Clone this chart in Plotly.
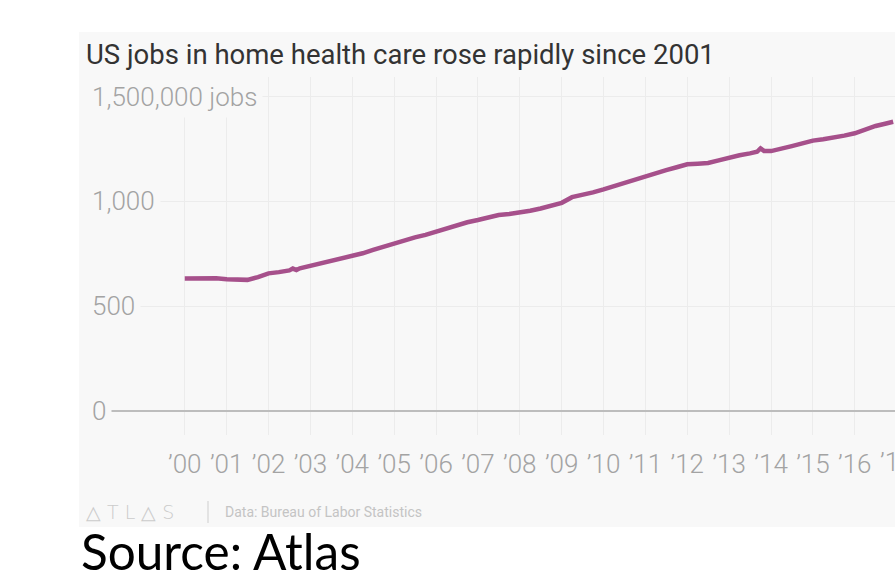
import plotly.graph_objects as go

# Home health care employment, thousands of jobs (BLS monthly series, sampled)
months = [
    "2000-01", "2000-04", "2000-07", "2000-10",
    "2001-01", "2001-04", "2001-07", "2001-10",
    "2002-01", "2002-04", "2002-07", "2002-08", "2002-09", "2002-10",
    "2003-01", "2003-04", "2003-07", "2003-10",
    "2004-01", "2004-04", "2004-07", "2004-10",
    "2005-01", "2005-04", "2005-07", "2005-10",
    "2006-01", "2006-04", "2006-07", "2006-10",
    "2007-01", "2007-04", "2007-07", "2007-10",
    "2008-01", "2008-04", "2008-07", "2008-10",
    "2009-01", "2009-04", "2009-07", "2009-10",
    "2010-01", "2010-04", "2010-07", "2010-10",
    "2011-01", "2011-04", "2011-07", "2011-10",
    "2012-01", "2012-04", "2012-07", "2012-10",
    "2013-01", "2013-04", "2013-07", "2013-09", "2013-10", "2013-11",
    "2014-01", "2014-04", "2014-07", "2014-10",
    "2015-01", "2015-04", "2015-07", "2015-10",
    "2016-01", "2016-04", "2016-07", "2016-10", "2016-12",
]
jobs_k = [
    632, 634, 635, 633,
    628, 624, 625, 638,
    656, 662, 670, 679, 672, 680,
    692, 704, 715, 726,
    740, 752, 768, 784,
    800, 812, 828, 840,
    855, 870, 887, 900,
    911, 922, 935, 940,
    946, 955, 966, 978,
    993, 1020, 1030, 1043,
    1057, 1073, 1089, 1105,
    1121, 1135, 1149, 1163,
    1177, 1180, 1183, 1196,
    1210, 1220, 1229, 1237, 1253, 1241,
    1240, 1250, 1264, 1277,
    1290, 1297, 1304, 1314,
    1325, 1343, 1360, 1372, 1380,
]

year_ticks = [f"{y}-01-01" for y in range(2000, 2018)]
year_labels = [f"\u2019{y % 100:02d}" for y in range(2000, 2018)]

y_ticks = [0, 500, 1000, 1500]
y_labels = ["0", "500", "1,000", "1,500,000 jobs"]

title = "US jobs in home health care rose rapidly since 2001"
credit = "Data: Bureau of Labor Statistics"
source = "Source: Atlas"

W, H = 895, 583
L, R, T, B = 110, 0, 77, 148
PW, PH = W - L - R, H - T - B
PANEL = "#f8f8f8"
LINE = "#a6508b"
GRAY = "#a3a3a3"


def px(x):
    return (x - L) / PW


def py(y):
    return (T + PH - y) / PH


fig = go.Figure()
fig.add_trace(go.Scatter(
    x=months, y=jobs_k, mode="lines",
    line=dict(color=LINE, width=4.5, shape="linear"),
    hoverinfo="skip", showlegend=False,
))

# light panel behind the whole graphic
fig.add_shape(type="rect", xref="paper", yref="paper",
              x0=px(79), x1=px(900), y0=py(527), y1=py(32),
              fillcolor=PANEL, line=dict(width=0), layer="below")
# thin divider between the logo and the data credit
fig.add_shape(type="line", xref="paper", yref="paper",
              x0=px(208), x1=px(208), y0=py(523), y1=py(501),
              line=dict(color="#d6d6d6", width=1.2))

annotations = []
annotations.append(dict(
    text=title, x=px(84), y=py(54), xref="paper", yref="paper",
    xanchor="left", yanchor="middle", showarrow=False,
    font=dict(family="Roboto", size=27.5, color="#333333"),
))
for v, lab in zip(y_ticks, y_labels):
    annotations.append(dict(
        text=lab, x=px(86), y=v, xref="paper", yref="y",
        xanchor="left", yanchor="middle", showarrow=False,
        bgcolor=PANEL, borderpad=5,
        font=dict(family="Roboto", size=26, color=GRAY, weight=300),
    ))
# the last year label sits at the right edge of the graphic and runs past it
annotations.append(dict(
    text=year_labels[-1], x=px(896.5), y=py(462), xref="paper", yref="paper",
    xanchor="center", yanchor="middle", showarrow=False,
    font=dict(family="Roboto", size=26, color=GRAY, weight=300),
))
annotations.append(dict(
    text="\u25b3 T L \u25b3 S", x=px(85), y=py(512), xref="paper", yref="paper",
    xanchor="left", yanchor="middle", showarrow=False, borderpad=0,
    font=dict(family="DejaVu Sans", size=19, color="#cbcbcb", weight=300),
))
annotations.append(dict(
    text=credit, x=px(224), y=py(512), xref="paper", yref="paper",
    xanchor="left", yanchor="middle", showarrow=False, borderpad=0,
    font=dict(family="Roboto", size=14, color="#c4c4c4"),
))
annotations.append(dict(
    text=source, x=px(80), y=py(582), xref="paper", yref="paper",
    xanchor="left", yanchor="bottom", showarrow=False, borderpad=0,
    font=dict(family="Lato", size=49.5, color="#000000"),
))

fig.update_layout(
    width=W, height=H, autosize=False,
    margin=dict(l=L, r=R, t=T, b=B, pad=0),
    paper_bgcolor="white", plot_bgcolor=PANEL,
    annotations=annotations,
    xaxis=dict(
        type="date", range=["1998-03-20", "2016-12-17"],
        tickvals=year_ticks, ticktext=year_labels,
        showgrid=True, gridcolor="#ececec", gridwidth=1,
        ticks="outside", ticklen=6, tickcolor="rgba(0,0,0,0)",
        tickfont=dict(family="Roboto", size=26, color=GRAY, weight=300),
        showline=False, zeroline=False, fixedrange=True,
    ),
    yaxis=dict(
        range=[-116, 1594], tickvals=y_ticks, showticklabels=False,
        showgrid=True, gridcolor="#ececec", gridwidth=1,
        zeroline=True, zerolinecolor="#bdbdbd", zerolinewidth=2,
        showline=False, fixedrange=True,
    ),
)

fig.write_html("out.html")
